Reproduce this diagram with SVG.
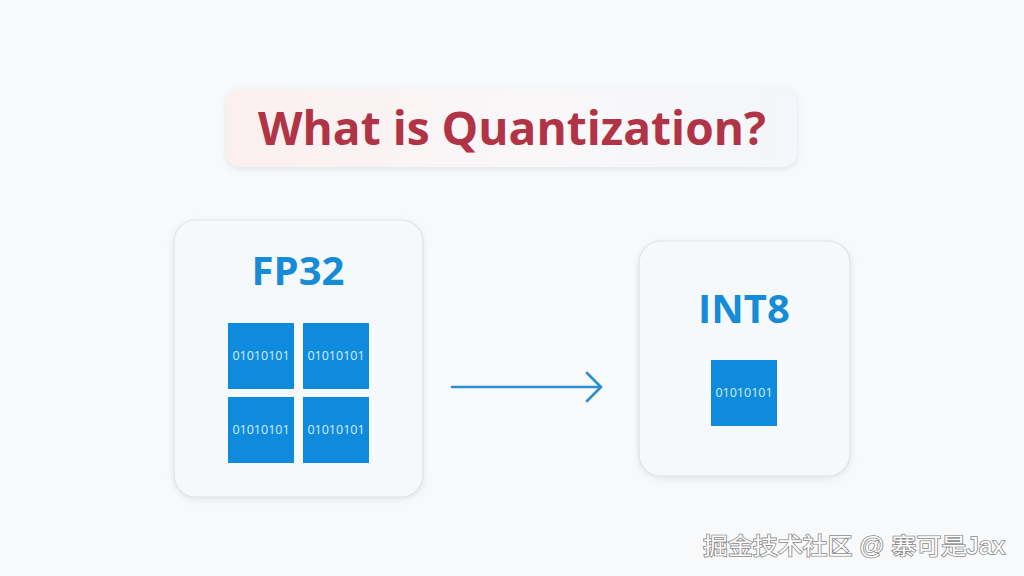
<svg xmlns="http://www.w3.org/2000/svg" width="1024" height="576" viewBox="0 0 1024 576">
<defs>
<linearGradient id="pill" x1="0" y1="0" x2="1" y2="0">
<stop offset="0" stop-color="#FBEFEF"/>
<stop offset="0.5" stop-color="#FAF7F8"/>
<stop offset="1" stop-color="#F3F6FA"/>
</linearGradient>
<filter id="sh" x="-10%" y="-10%" width="120%" height="120%">
<feDropShadow dx="0" dy="2" stdDeviation="3" flood-color="#9AA8B8" flood-opacity="0.25"/>
</filter>
</defs>
<style>
.card{fill:#F6F9FC;stroke:#DCE3EA;stroke-width:1.2}
.hdr{font-family:"Open Sans","Liberation Sans",sans-serif;font-weight:700;fill:#168BD6;text-anchor:middle}
.cell{fill:#0E8BDC}
.bits{font-family:"Open Sans","Liberation Sans",sans-serif;font-size:12.5px;fill:#D6EEFF;text-anchor:middle}
.wm{font-family:"Liberation Sans","Noto Sans CJK SC",sans-serif;font-size:23px;fill:#FFFFFF;stroke:#8A8A8A;stroke-width:1.6;paint-order:stroke}
</style>
<rect width="1024" height="576" fill="#F8F9FA"/>
<g id="title">
<rect x="226" y="89" width="571" height="78" rx="14" fill="url(#pill)" filter="url(#sh)"/>
<text x="512" y="145" text-anchor="middle" font-family="Open Sans, Liberation Sans, sans-serif" font-weight="700" font-size="46" fill="#B03446" textLength="508" lengthAdjust="spacingAndGlyphs">What is Quantization?</text>
</g>
<g id="fp32">
<rect class="card" x="174" y="220" width="249" height="277" rx="22" filter="url(#sh)"/>
<text class="hdr" x="298" y="285" font-size="40">FP32</text>
<rect class="cell" x="228" y="323" width="66" height="66"/>
<rect class="cell" x="303" y="323" width="66" height="66"/>
<rect class="cell" x="228" y="397" width="66" height="66"/>
<rect class="cell" x="303" y="397" width="66" height="66"/>
<text class="bits" x="261" y="360">01010101</text>
<text class="bits" x="336" y="360">01010101</text>
<text class="bits" x="261" y="434">01010101</text>
<text class="bits" x="336" y="434">01010101</text>
</g>
<g id="int8">
<rect class="card" x="639" y="241" width="211" height="235" rx="22" filter="url(#sh)"/>
<text class="hdr" x="744" y="323" font-size="40">INT8</text>
<rect class="cell" x="711" y="360" width="66" height="66"/>
<text class="bits" x="744" y="397">01010101</text>
</g>
<g id="connectors">
<path d="M452 387 H601 M587 373 L601 387 L587 401" fill="none" stroke="#2A8ED1" stroke-width="2.6" stroke-linecap="round" stroke-linejoin="round"/>
</g>
<text class="wm" x="703" y="554" textLength="302" lengthAdjust="spacingAndGlyphs">掘金技术社区 @ 寨可是Jax</text>
</svg>
